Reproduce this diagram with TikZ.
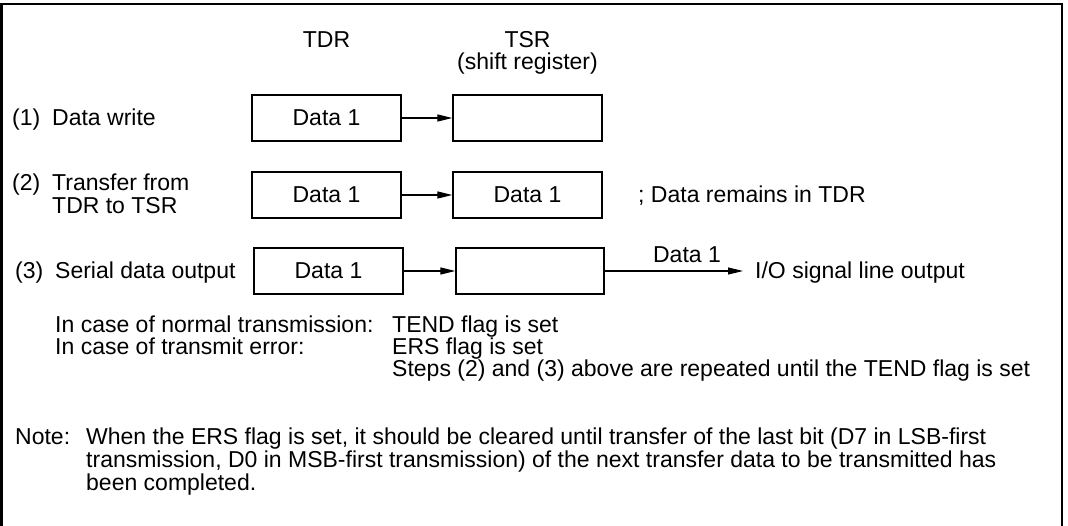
\documentclass[tikz,border=0pt]{standalone}
\usepackage{fontspec}
\setmainfont{Liberation Sans}
\usetikzlibrary{arrows.meta}
\begin{document}
\begin{tikzpicture}[x=1pt,y=-1pt,
  every node/.style={inner sep=0pt,font=\fontsize{23}{22}\selectfont},
  lbl/.style={anchor=base west},
  ctr/.style={anchor=base},
  regbox/.style={draw,line width=1.3pt,minimum width=149pt,minimum height=46pt},
  flow/.style={line width=1.1pt,-{Triangle[length=15pt,width=7pt]}},
  frame/.style={line width=2.6pt}]
\useasboundingbox (0,0) rectangle (1068,526);
\draw[frame] (1.3,526) -- (1.3,4) -- (1062,4) -- (1062,526);
% headers
\node[ctr] (hTDR) at (326.5,48) {TDR};
\node[ctr] (hTSR) at (527.5,48) {TSR};
\node[ctr] (hTSR2) at (527.5,70) {(shift register)};
% row 1
\node[lbl] (n1) at (12,126) {(1)};
\node[lbl] (l1) at (52,126) {Data write};
\node[regbox] (tdr1) at (326.5,118) {Data 1};
\node[regbox] (tsr1) at (527.5,118) {};
\draw[flow] (tdr1) -- (tsr1);
% row 2
\node[lbl] (n2) at (12,191) {(2)};
\node[lbl] (l2a) at (52,191) {Transfer from};
\node[lbl] (l2b) at (52,214) {TDR to TSR};
\node[regbox] (tdr2) at (326.5,195) {Data 1};
\node[regbox] (tsr2) at (527.5,195) {Data 1};
\draw[flow] (tdr2) -- (tsr2);
\node[lbl] (rem) at (638,203) {; Data remains in TDR};
% row 3
\node[lbl] (n3) at (15,279) {(3)};
\node[lbl] (l3) at (55,279) {Serial data output};
\node[regbox] (tdr3) at (328.5,271) {Data 1};
\node[regbox,minimum width=148pt] (tsr3) at (530,271) {};
\draw[flow] (tdr3) -- (tsr3);
\coordinate (out) at (743,271);
\draw[flow] (tsr3) -- (out);
\node[ctr] (d1) at (687,263) {Data 1};
\node[lbl] (io) at (755,279) {I/O signal line output};
% cases
\node[lbl] (c1) at (55,333) {In case of normal transmission:};
\node[lbl] (c1r) at (392,333) {TEND flag is set};
\node[lbl] (c2) at (55,355) {In case of transmit error:};
\node[lbl] (c2r) at (392,355) {ERS flag is set};
\node[lbl] (c3r) at (392,377) {Steps (2) and (3) above are repeated until the TEND flag is set};
% note
\node[lbl] (note) at (15,444) {Note:};
\node[lbl] (nt1) at (86,444) {When the ERS flag is set, it should be cleared until transfer of the last bit (D7 in LSB-first};
\node[lbl] (nt2) at (86,467) {transmission, D0 in MSB-first transmission) of the next transfer data to be transmitted has};
\node[lbl] (nt3) at (86,490) {been completed.};
\end{tikzpicture}
\end{document}
